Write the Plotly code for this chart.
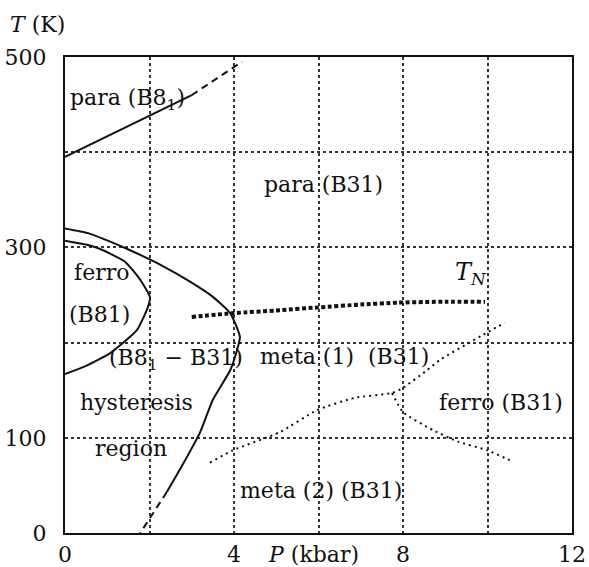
import plotly.graph_objects as go

# Phase boundaries in the P-T plane (P in kbar, T in K)
para_b81_P = [0.0, 3.0]
para_b81_T = [395, 460]
para_b81_ext_P = [3.0, 4.19]
para_b81_ext_T = [460, 495]

outer_P = [0.0, 0.55, 1.07, 1.54, 2.25, 2.96, 3.5, 3.91, 4.14, 4.07, 3.91, 3.5, 3.2, 2.8, 2.41]
outer_T = [320, 315, 306, 297, 282, 264, 248, 231, 206, 192, 171, 140, 106, 73, 43]
outer_ext_P = [2.41, 1.78]
outer_ext_T = [43, 0]

inner_P = [0.0, 0.59, 0.9, 1.42, 1.78, 2.01, 1.96, 1.70, 1.07, 0.47, 0.0]
inner_T = [307, 302, 297, 285, 266, 248, 237, 213, 189, 175, 167]

tn_P = [3.0, 4.0, 5.09, 6.0, 7.0, 7.9, 9.0, 9.94]
tn_T = [227, 231, 234, 237, 240, 242, 243, 243]

meta_P = [3.43, 3.98, 5.09, 5.96, 6.86, 7.74, 7.98, 8.57, 8.88, 9.89, 10.41]
meta_T = [74, 87, 106, 129, 142, 147, 152, 171, 182, 208, 221]

ferro_P = [7.74, 8.0, 8.71, 9.3, 9.99, 10.6]
ferro_T = [147, 127, 108, 96, 87, 75]

x_ticks = [0, 2, 4, 6, 8, 10, 12]
x_labels = ["0", "", "4", "", "8", "", "12"]
y_ticks = [0, 100, 200, 300, 400, 500]
y_labels = ["0", "100", "", "300", "", "500"]

INK = "#111111"
FONT = "DejaVu Serif"
SIZE = 22

fig = go.Figure()


def curve(px, ty, width=2, dash="solid", smooth=0.5):
    fig.add_trace(go.Scatter(
        x=px, y=ty, mode="lines", showlegend=False, hoverinfo="skip",
        line=dict(color=INK, width=width, dash=dash, shape="spline", smoothing=smooth),
    ))


curve(para_b81_P, para_b81_T)
curve(para_b81_ext_P, para_b81_ext_T, dash="7px,5px")
curve(outer_P, outer_T)
curve(outer_ext_P, outer_ext_T, dash="7px,5px")
curve(inner_P, inner_T)
curve(tn_P, tn_T, width=4, dash="4px,2.5px")
curve(meta_P, meta_T, width=2, dash="2px,4px")
curve(ferro_P, ferro_T, width=2, dash="2px,4px")

labels = [
    (0.07, 455, "para (B8<sub>1</sub>)"),
    (4.66, 366, "para (B31)"),
    (0.17, 274, "ferro"),
    (0.05, 229, "(B81)"),
    (0.99, 182, "(B8<sub>1</sub> − B31)"),
    (4.57, 185, "meta (1)  (B31)"),
    (0.31, 137, "hysteresis"),
    (0.66, 89, "region"),
    (8.8, 137, "ferro (B31)"),
    (4.09, 45, "meta (2) (B31)"),
]
for px, ty, txt in labels:
    fig.add_annotation(x=px, y=ty, text=txt, showarrow=False, xanchor="left",
                       yanchor="middle", font=dict(family=FONT, size=SIZE, color=INK))

fig.add_annotation(x=9.6, y=273, text="<i>T</i><sub><i>N</i></sub>", showarrow=False,
                   xanchor="center", yanchor="middle",
                   font=dict(family=FONT, size=24, color=INK))

# Axis titles
fig.add_annotation(xref="paper", yref="paper", x=-0.112, y=1.069, text="<i>T</i> (K)",
                   showarrow=False, xanchor="left", yanchor="middle",
                   font=dict(family=FONT, size=SIZE, color=INK))
fig.add_annotation(xref="paper", yref="paper", x=0.396, y=-0.046, text="<i>P</i> (kbar)",
                   showarrow=False, xanchor="left", yanchor="middle",
                   font=dict(family=FONT, size=SIZE, color=INK))

axis_common = dict(
    showline=True, linecolor=INK, linewidth=2, mirror=True,
    showgrid=True, gridcolor="#333333", gridwidth=1.5, griddash="2.5px,3.5px",
    zeroline=False, ticks="", automargin=False,
    tickfont=dict(family=FONT, size=SIZE, color=INK),
)

fig.update_xaxes(range=[0, 12], tickvals=x_ticks, ticktext=x_labels,
                 ticklabelstandoff=1, **axis_common)
fig.update_yaxes(range=[0, 500], tickvals=y_ticks, ticktext=y_labels,
                 ticklabelstandoff=12, **axis_common)

fig.update_layout(
    width=589, height=567,
    margin=dict(l=65, r=17, t=57, b=34, autoexpand=False),
    plot_bgcolor="white", paper_bgcolor="white",
)

fig.write_html("out.html")
